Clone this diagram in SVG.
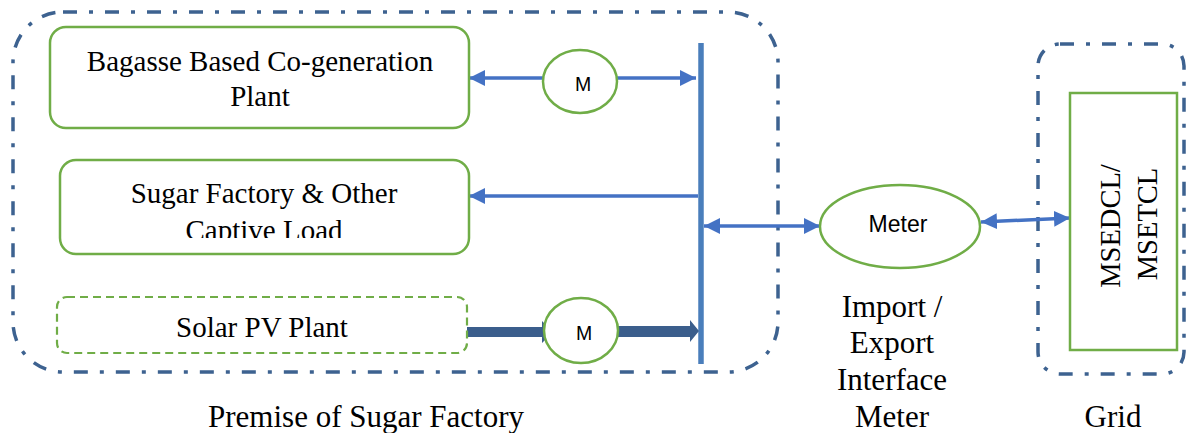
<svg xmlns="http://www.w3.org/2000/svg" width="1188" height="433" viewBox="0 0 1188 433">
  <defs>
    <style>
      .zone { fill: none; stroke: #3d6290; stroke-width: 3.5; stroke-dasharray: 14 12 4 12; }
      .box { fill: #ffffff; stroke: #70ad47; stroke-width: 2.5; }
      .box-dashed { fill: #ffffff; stroke: #70ad47; stroke-width: 2.2; stroke-dasharray: 8 5; }
      .serif { font-family: "Liberation Serif", "Times New Roman", serif; fill: #000000; }
      .sans { font-family: "Liberation Sans", Arial, sans-serif; fill: #000000; }
      .flow { fill: none; stroke: #4472c4; stroke-width: 3.5; }
      .bus { fill: none; stroke: #4a7ebb; stroke-width: 5.5; }
      .feed { fill: #3b5e8c; }
    </style>
    <marker id="head" markerUnits="userSpaceOnUse" markerWidth="16" markerHeight="16" refX="14" refY="7" orient="auto-start-reverse" viewBox="0 0 14 14">
      <path d="M0,0 L14,7 L0,14 Z" fill="#4472c4"/>
    </marker>
    <clipPath id="loadClip">
      <rect x="60" y="160" width="410" height="78"/>
    </clipPath>
  </defs>

  <!-- boundaries -->
  <rect class="zone" x="13" y="12" width="765" height="360" rx="50" ry="50"/>
  <rect class="zone" x="1038" y="44" width="146" height="330" rx="22" ry="22"/>

  <!-- connectors -->
  <g id="connectors">
    <line class="bus" x1="701" y1="43" x2="701" y2="364"/>
    <line class="flow" x1="543" y1="78" x2="469" y2="78" marker-end="url(#head)"/>
    <line class="flow" x1="617" y1="78" x2="696" y2="78" marker-end="url(#head)"/>
    <line class="flow" x1="698" y1="196" x2="469" y2="196" marker-end="url(#head)"/>
    <line class="flow" x1="704" y1="226" x2="820" y2="226" marker-start="url(#head)" marker-end="url(#head)"/>
    <line class="flow" x1="981" y1="222" x2="1070" y2="218" marker-start="url(#head)" marker-end="url(#head)"/>
    <polygon class="feed" points="463,327 542,327 542,321 553,332 542,343 542,337 463,337"/>
    <polygon class="feed" points="617,326 690,326 690,320 699,331 690,342 690,337 617,337"/>
  </g>

  <!-- co-generation plant -->
  <g id="bagasse">
    <rect class="box" x="50" y="27" width="419" height="101" rx="16" ry="16"/>
    <text class="serif" x="260" y="71" font-size="29" text-anchor="middle">Bagasse Based Co-generation</text>
    <text class="serif" x="260" y="106" font-size="29" text-anchor="middle">Plant</text>
  </g>

  <!-- factory load -->
  <g id="load">
    <rect class="box" x="60" y="160" width="409" height="94" rx="16" ry="16"/>
    <text class="serif" x="264" y="203" font-size="29" text-anchor="middle">Sugar Factory &amp; Other</text>
    <text class="serif" x="264" y="240" font-size="29" text-anchor="middle" clip-path="url(#loadClip)">Captive Load</text>
  </g>

  <!-- solar plant -->
  <g id="solar">
    <rect class="box-dashed" x="57" y="297" width="410" height="56" rx="10" ry="10"/>
    <text class="serif" x="262" y="337" font-size="29" text-anchor="middle">Solar PV Plant</text>
  </g>

  <!-- meters -->
  <g id="meter-cogen">
    <ellipse class="box" cx="580" cy="81.5" rx="37" ry="31.5"/>
    <text class="sans" x="583" y="91" font-size="19.5" text-anchor="middle">M</text>
  </g>
  <g id="meter-solar">
    <ellipse class="box" cx="581" cy="330.5" rx="37" ry="32.5"/>
    <text class="sans" x="584" y="340" font-size="19.5" text-anchor="middle">M</text>
  </g>
  <g id="meter-interface">
    <ellipse class="box" cx="900" cy="226.5" rx="80" ry="41.5"/>
    <text class="sans" x="898" y="232" font-size="23" text-anchor="middle">Meter</text>
  </g>

  <!-- utility -->
  <g id="grid">
    <rect class="box" x="1070" y="93" width="107" height="257"/>
    <text class="serif" font-size="28.5" text-anchor="middle" transform="translate(1120,226) rotate(-90)">MSEDCL/</text>
    <text class="serif" font-size="28.5" text-anchor="middle" transform="translate(1157,224) rotate(-90)">MSETCL</text>
  </g>

  <!-- captions -->
  <g id="captions">
    <text class="serif" x="366" y="427" font-size="31" text-anchor="middle">Premise of Sugar Factory</text>
    <text class="serif" x="892" y="317" font-size="31" text-anchor="middle">Import /</text>
    <text class="serif" x="892" y="353" font-size="31" text-anchor="middle">Export</text>
    <text class="serif" x="892" y="390" font-size="31" text-anchor="middle">Interface</text>
    <text class="serif" x="892" y="427" font-size="31" text-anchor="middle">Meter</text>
    <text class="serif" x="1113" y="427" font-size="31" text-anchor="middle">Grid</text>
  </g>
</svg>
